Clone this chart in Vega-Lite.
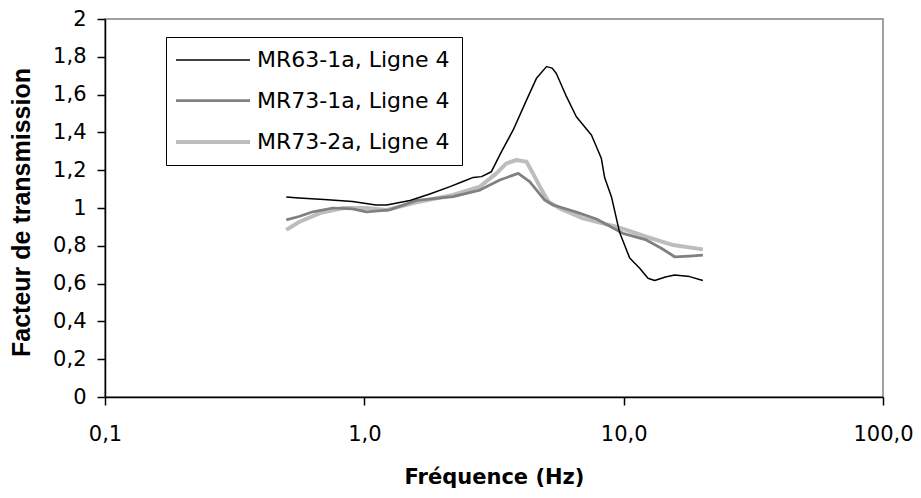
{
  "$schema": "https://vega.github.io/schema/vega-lite/v6.json",
  "width": 778,
  "height": 378,
  "autosize": "none",
  "padding": {"left": 105, "top": 19, "right": 38, "bottom": 101},
  "background": "white",
  "config": {
    "view": {"stroke": "#808080", "strokeWidth": 1.5},
    "axis": {"grid": false}
  },
  "data": {
    "values": [
      {"series": "MR73-2a, Ligne 4", "f": 0.5, "v": 0.884},
      {"series": "MR73-2a, Ligne 4", "f": 0.56, "v": 0.926},
      {"series": "MR73-2a, Ligne 4", "f": 0.674, "v": 0.973},
      {"series": "MR73-2a, Ligne 4", "f": 0.83, "v": 1.0},
      {"series": "MR73-2a, Ligne 4", "f": 1.02, "v": 1.0},
      {"series": "MR73-2a, Ligne 4", "f": 1.22, "v": 0.99},
      {"series": "MR73-2a, Ligne 4", "f": 1.59, "v": 1.03},
      {"series": "MR73-2a, Ligne 4", "f": 2.2, "v": 1.069},
      {"series": "MR73-2a, Ligne 4", "f": 2.79, "v": 1.113},
      {"series": "MR73-2a, Ligne 4", "f": 3.23, "v": 1.183},
      {"series": "MR73-2a, Ligne 4", "f": 3.53, "v": 1.236},
      {"series": "MR73-2a, Ligne 4", "f": 3.86, "v": 1.254},
      {"series": "MR73-2a, Ligne 4", "f": 4.22, "v": 1.245},
      {"series": "MR73-2a, Ligne 4", "f": 4.47, "v": 1.183},
      {"series": "MR73-2a, Ligne 4", "f": 4.75, "v": 1.113},
      {"series": "MR73-2a, Ligne 4", "f": 5.13, "v": 1.033},
      {"series": "MR73-2a, Ligne 4", "f": 5.67, "v": 0.998},
      {"series": "MR73-2a, Ligne 4", "f": 6.97, "v": 0.945},
      {"series": "MR73-2a, Ligne 4", "f": 9.37, "v": 0.901},
      {"series": "MR73-2a, Ligne 4", "f": 12.23, "v": 0.848},
      {"series": "MR73-2a, Ligne 4", "f": 15.5, "v": 0.804},
      {"series": "MR73-2a, Ligne 4", "f": 20.2, "v": 0.781},

      {"series": "MR73-1a, Ligne 4", "f": 0.5, "v": 0.937},
      {"series": "MR73-1a, Ligne 4", "f": 0.56, "v": 0.955},
      {"series": "MR73-1a, Ligne 4", "f": 0.633, "v": 0.98},
      {"series": "MR73-1a, Ligne 4", "f": 0.757, "v": 1.0},
      {"series": "MR73-1a, Ligne 4", "f": 0.9, "v": 0.995},
      {"series": "MR73-1a, Ligne 4", "f": 1.02, "v": 0.98},
      {"series": "MR73-1a, Ligne 4", "f": 1.25, "v": 0.99},
      {"series": "MR73-1a, Ligne 4", "f": 1.59, "v": 1.04},
      {"series": "MR73-1a, Ligne 4", "f": 2.2, "v": 1.06},
      {"series": "MR73-1a, Ligne 4", "f": 2.79, "v": 1.095},
      {"series": "MR73-1a, Ligne 4", "f": 3.33, "v": 1.148},
      {"series": "MR73-1a, Ligne 4", "f": 3.92, "v": 1.183},
      {"series": "MR73-1a, Ligne 4", "f": 4.34, "v": 1.139},
      {"series": "MR73-1a, Ligne 4", "f": 4.96, "v": 1.042},
      {"series": "MR73-1a, Ligne 4", "f": 5.35, "v": 1.016},
      {"series": "MR73-1a, Ligne 4", "f": 6.57, "v": 0.978},
      {"series": "MR73-1a, Ligne 4", "f": 7.85, "v": 0.942},
      {"series": "MR73-1a, Ligne 4", "f": 9.93, "v": 0.866},
      {"series": "MR73-1a, Ligne 4", "f": 12.23, "v": 0.831},
      {"series": "MR73-1a, Ligne 4", "f": 13.97, "v": 0.787},
      {"series": "MR73-1a, Ligne 4", "f": 15.72, "v": 0.742},
      {"series": "MR73-1a, Ligne 4", "f": 17.96, "v": 0.746},
      {"series": "MR73-1a, Ligne 4", "f": 20.2, "v": 0.751},

      {"series": "MR63-1a, Ligne 4", "f": 0.5, "v": 1.058},
      {"series": "MR63-1a, Ligne 4", "f": 0.56, "v": 1.053},
      {"series": "MR63-1a, Ligne 4", "f": 0.7, "v": 1.045},
      {"series": "MR63-1a, Ligne 4", "f": 0.9, "v": 1.035},
      {"series": "MR63-1a, Ligne 4", "f": 1.11, "v": 1.016},
      {"series": "MR63-1a, Ligne 4", "f": 1.22, "v": 1.016},
      {"series": "MR63-1a, Ligne 4", "f": 1.5, "v": 1.04},
      {"series": "MR63-1a, Ligne 4", "f": 1.8, "v": 1.075},
      {"series": "MR63-1a, Ligne 4", "f": 2.14, "v": 1.113},
      {"series": "MR63-1a, Ligne 4", "f": 2.4, "v": 1.14},
      {"series": "MR63-1a, Ligne 4", "f": 2.63, "v": 1.162},
      {"series": "MR63-1a, Ligne 4", "f": 2.83, "v": 1.166},
      {"series": "MR63-1a, Ligne 4", "f": 3.09, "v": 1.192},
      {"series": "MR63-1a, Ligne 4", "f": 3.38, "v": 1.298},
      {"series": "MR63-1a, Ligne 4", "f": 3.75, "v": 1.413},
      {"series": "MR63-1a, Ligne 4", "f": 4.22, "v": 1.571},
      {"series": "MR63-1a, Ligne 4", "f": 4.61, "v": 1.686},
      {"series": "MR63-1a, Ligne 4", "f": 5.04, "v": 1.748},
      {"series": "MR63-1a, Ligne 4", "f": 5.3, "v": 1.74},
      {"series": "MR63-1a, Ligne 4", "f": 5.5, "v": 1.712},
      {"series": "MR63-1a, Ligne 4", "f": 6.02, "v": 1.589},
      {"series": "MR63-1a, Ligne 4", "f": 6.57, "v": 1.483},
      {"series": "MR63-1a, Ligne 4", "f": 7.51, "v": 1.386},
      {"series": "MR63-1a, Ligne 4", "f": 8.2, "v": 1.263},
      {"series": "MR63-1a, Ligne 4", "f": 8.45, "v": 1.16},
      {"series": "MR63-1a, Ligne 4", "f": 8.97, "v": 1.06},
      {"series": "MR63-1a, Ligne 4", "f": 9.65, "v": 0.87},
      {"series": "MR63-1a, Ligne 4", "f": 10.55, "v": 0.735},
      {"series": "MR63-1a, Ligne 4", "f": 11.53, "v": 0.681},
      {"series": "MR63-1a, Ligne 4", "f": 12.41, "v": 0.628},
      {"series": "MR63-1a, Ligne 4", "f": 13.17, "v": 0.616},
      {"series": "MR63-1a, Ligne 4", "f": 14.5, "v": 0.635},
      {"series": "MR63-1a, Ligne 4", "f": 15.72, "v": 0.646},
      {"series": "MR63-1a, Ligne 4", "f": 17.96, "v": 0.637},
      {"series": "MR63-1a, Ligne 4", "f": 20.2, "v": 0.616}
    ]
  },
  "mark": {"type": "line", "interpolate": "linear", "strokeJoin": "round"},
  "encoding": {
    "x": {
      "field": "f",
      "type": "quantitative",
      "scale": {"type": "log", "domain": [0.1, 100], "nice": false},
      "axis": {
        "values": [0.1, 1, 10, 100],
        "labelExpr": "replace(format(datum.value, '.1f'), '.', ',')",
        "title": "Fréquence (Hz)",
        "titleFont": "DejaVu Sans",
        "titleFontWeight": "bold",
        "titleFontSize": 21,
        "titleColor": "black",
        "titlePadding": 22,
        "labelFont": "DejaVu Sans",
        "labelFontSize": 21,
        "labelColor": "black",
        "labelPadding": 18,
        "labelFlush": false,
        "labelOverlap": false,
        "tickSize": 8,
        "tickColor": "black",
        "tickWidth": 1.5,
        "domainColor": "black",
        "domainWidth": 1.5
      }
    },
    "y": {
      "field": "v",
      "type": "quantitative",
      "scale": {"domain": [0, 2], "nice": false, "zero": true},
      "axis": {
        "values": [0, 0.2, 0.4, 0.6, 0.8, 1, 1.2, 1.4, 1.6, 1.8, 2],
        "labelExpr": "replace(format(datum.value, '.1~f'), '.', ',')",
        "title": "Facteur de transmission",
        "titleFont": "Liberation Sans",
        "titleFontWeight": "bold",
        "titleFontSize": 25,
        "titleColor": "black",
        "titlePadding": 18,
        "titleY": 193,
        "labelFont": "DejaVu Sans",
        "labelFontSize": 21,
        "labelColor": "black",
        "labelPadding": 11,
        "labelFlush": false,
        "labelOverlap": false,
        "tickSize": 8,
        "tickColor": "black",
        "tickWidth": 1.5,
        "domainColor": "black",
        "domainWidth": 1.5
      }
    },
    "color": {
      "field": "series",
      "type": "nominal",
      "scale": {
        "domain": ["MR63-1a, Ligne 4", "MR73-1a, Ligne 4", "MR73-2a, Ligne 4"],
        "range": ["#000000", "#808080", "#bdbdbd"]
      },
      "legend": {
        "orient": "none",
        "legendX": 61,
        "legendY": 18,
        "title": null,
        "strokeColor": "black",
        "fillColor": "white",
        "padding": 12,
        "labelFont": "DejaVu Sans",
        "labelFontSize": 22,
        "labelColor": "black",
        "labelOffset": 55,
        "labelLimit": 400,
        "symbolType": "M-1.4,0H6",
        "symbolSize": 400,
        "rowPadding": 18
      }
    },
    "strokeWidth": {
      "field": "series",
      "type": "ordinal",
      "scale": {
        "domain": ["MR63-1a, Ligne 4", "MR73-1a, Ligne 4", "MR73-2a, Ligne 4"],
        "range": [1.5, 4, 6]
      }
    }
  }
}
